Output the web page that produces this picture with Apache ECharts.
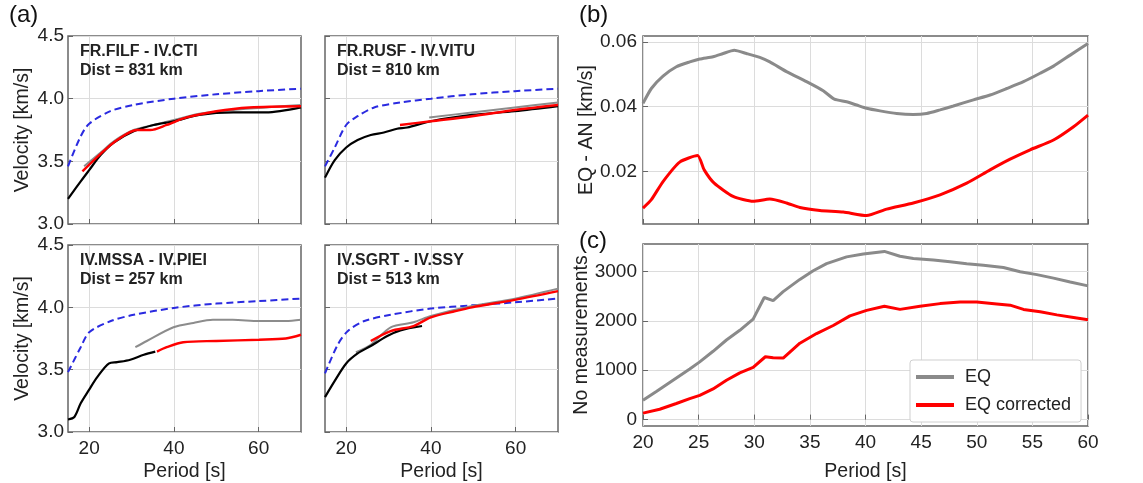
<!DOCTYPE html>
<html><head><meta charset="utf-8">
<script src="https://cdn.jsdelivr.net/npm/echarts@6/dist/echarts.min.js"></script>
<style>html,body{margin:0;padding:0;background:#fff}#c{width:1143px;height:483px}</style>
</head><body><div id="c"></div><script>
// ---------- data ----------
const xTicksA = [20, 40, 60];
const yTicksA = [3.0, 3.5, 4.0, 4.5];
const xTicksBC = [20, 25, 30, 35, 40, 45, 50, 55, 60];
const yTicksB = [0.02, 0.04, 0.06];
const yTicksC = [0, 1000, 2000, 3000];

const pairTitles = ['FR.FILF - IV.CTI', 'FR.RUSF - IV.VITU', 'IV.MSSA - IV.PIEI', 'IV.SGRT - IV.SSY'];
const pairDists = ['Dist = 831 km', 'Dist = 810 km', 'Dist = 257 km', 'Dist = 513 km'];

// panel (a) subplot 1: FR.FILF - IV.CTI
const a1Ref = [[15,3.46],[18,3.70],[20,3.80],[25,3.90],[30.5,3.95],[40,4.00],[50,4.035],[60,4.06],[70,4.08]];
const a1Black = [[15,3.20],[18,3.34],[20,3.43],[22.7,3.55],[25.8,3.65],[30.5,3.74],[35.2,3.79],[40,3.82],[46,3.87],[54,3.89],[61.7,3.89],[70,3.93]];
const a1Grey = [[18.8,3.46],[22.7,3.57],[25.8,3.66],[30.5,3.75],[35.2,3.79],[40,3.83],[46,3.88],[54,3.91],[61.7,3.93],[70,3.95]];
const a1Red = [[18.4,3.42],[22.7,3.56],[26.6,3.67],[31.3,3.75],[34.4,3.75],[38.3,3.79],[43,3.85],[50,3.90],[57.8,3.93],[70,3.94]];
// subplot 2: FR.RUSF - IV.VITU
const a2Ref = [[15,3.46],[17.3,3.61],[20,3.79],[22.7,3.86],[26.6,3.93],[32.8,3.97],[40,4.00],[49.7,4.035],[59.8,4.06],[70,4.08]];
const a2Black = [[15,3.37],[17.3,3.51],[20,3.61],[22.7,3.67],[25.8,3.71],[28.9,3.73],[32,3.76],[34.4,3.77],[40,3.82],[49.7,3.87],[59.8,3.90],[70,3.94]];
const a2Grey = [[39.6,3.85],[49.7,3.89],[59.8,3.93],[70,3.97]];
const a2Red = [[32.7,3.79],[40,3.82],[49.7,3.86],[59.8,3.91],[70,3.95]];
// subplot 3: IV.MSSA - IV.PIEI
const a3Ref = [[15,3.48],[18,3.68],[20,3.80],[25.1,3.89],[30.5,3.94],[40,3.995],[50,4.03],[60,4.05],[70,4.07]];
const a3Black = [[15,3.10],[16.5,3.12],[18,3.23],[20,3.34],[21.9,3.44],[24.7,3.55],[26.6,3.56],[29.7,3.58],[32.9,3.62],[35.6,3.645]];
const a3Grey = [[30.9,3.68],[33.6,3.73],[39.9,3.84],[44.6,3.875],[49.2,3.90],[53.9,3.90],[60.1,3.89],[66.4,3.89],[70,3.90]];
const a3Red = [[36,3.645],[38.3,3.68],[42.2,3.72],[50,3.73],[60.1,3.74],[66.4,3.75],[70,3.78]];
// subplot 4: IV.SGRT - IV.SSY
const a4Ref = [[15,3.47],[18,3.70],[20.4,3.81],[24.3,3.89],[30.5,3.94],[40,3.99],[49.7,4.016],[59.8,4.04],[70,4.07]];
const a4Black = [[15,3.28],[17.3,3.41],[20,3.55],[22.7,3.63],[25.8,3.69],[29.7,3.77],[32.8,3.815],[37.9,3.85]];
const a4Grey = [[22.3,3.64],[25.8,3.70],[30.5,3.84],[35.9,3.88],[40,3.93],[49.7,4.01],[59.8,4.07],[70,4.15]];
const a4Red = [[25.8,3.73],[30.5,3.81],[35.9,3.85],[40,3.92],[45.8,3.97],[49.7,4.00],[59.8,4.06],[70,4.13]];

// panel (b): EQ - AN
const bEQ = [[20,0.0410],[20.75,0.0456],[21.8,0.0494],[23,0.0523],[24.2,0.0538],[25.1,0.0547],[26.3,0.0554],[27.2,0.0564],[28.2,0.0574],[29.3,0.0564],[30.5,0.0552],[31.4,0.0538],[32.9,0.0508],[34.7,0.0477],[36.2,0.0449],[37.2,0.0423],[38.3,0.0415],[39.2,0.0405],[40.1,0.0395],[41.3,0.0387],[42.8,0.0379],[44.3,0.0376],[45.5,0.0379],[46.7,0.0390],[47.9,0.0402],[49.7,0.0421],[51.2,0.0436],[52.7,0.0456],[54.2,0.0477],[55.7,0.0503],[56.9,0.0525],[58.4,0.0559],[60,0.0595]];
const bEQcorr = [[20,0.0087],[20.75,0.0113],[21.8,0.0169],[23.3,0.0229],[24.9,0.0249],[25.5,0.0205],[26.4,0.0164],[28.1,0.0123],[29.9,0.0108],[31.4,0.0115],[32.9,0.0103],[34.1,0.0089],[35.9,0.0080],[38,0.0075],[40.1,0.0064],[41.9,0.0084],[44.3,0.0103],[46.7,0.0128],[49.1,0.0164],[51.2,0.0205],[53,0.0238],[54.8,0.0267],[56.9,0.0297],[58.7,0.0338],[60,0.0374]];

// panel (c): number of measurements
const cEQ = [[20,391],[21.2,568],[22.7,796],[24.2,1024],[25.1,1168],[26.3,1383],[27.5,1611],[28.7,1807],[29.9,2035],[30.9,2472],[31.7,2407],[32.6,2590],[34.1,2838],[35.3,3014],[36.5,3157],[38.3,3294],[39.8,3353],[41.7,3405],[43.1,3307],[44.3,3262],[46.1,3229],[47.6,3196],[49.1,3157],[50.6,3125],[52.4,3079],[53.9,2994],[55.4,2935],[56.9,2864],[58.4,2785],[60,2707]];
const cEQcorr = [[20,130],[21.5,209],[23,326],[24.2,424],[25.1,489],[26.3,620],[27.5,796],[28.7,946],[29.9,1057],[31,1272],[31.7,1252],[32.6,1246],[34.1,1546],[35.6,1742],[37.1,1905],[38.6,2100],[40.1,2211],[41.7,2296],[43.1,2231],[44.9,2296],[46.7,2348],[48.5,2381],[50,2381],[51.8,2342],[53,2316],[54.2,2231],[55.7,2185],[57.2,2120],[58.7,2068],[60,2022]];

// ---------- layout ----------
const FONT = 'Liberation Sans, Arial, Helvetica, sans-serif';
const grids = [
  {left: 68, top: 36, width: 233, height: 188},
  {left: 325, top: 36, width: 233, height: 188},
  {left: 68, top: 245, width: 233, height: 187},
  {left: 325, top: 245, width: 233, height: 187},
  {left: 643, top: 36, width: 445, height: 188},
  {left: 643, top: 244, width: 445, height: 188}
].map(g => Object.assign({show: true, borderColor: '#666', borderWidth: 1.5, backgroundColor: 'transparent'}, g));

const tickStyle = {show: true, inside: true, length: 5, lineStyle: {color: '#666', width: 1}};
const splitStyle = {show: true, lineStyle: {color: '#dcdcdc', width: 1}};
const lblStyle = {color: '#222', fontSize: 19, fontFamily: FONT};
const nameStyle = {color: '#222', fontSize: 19.5, fontFamily: FONT};

const xAxes = [], yAxes = [];
for (let i = 0; i < 4; i++) {
  const bottom = i >= 2;
  const left = i % 2 === 0;
  xAxes.push({
    type: 'value', gridIndex: i, min: 15, max: 70,
    axisLine: {show: false},
    axisTick: Object.assign({}, tickStyle, {customValues: xTicksA}),
    splitLine: splitStyle,
    axisLabel: Object.assign({}, lblStyle, {show: bottom, customValues: xTicksA, margin: 7}),
    name: bottom ? 'Period [s]' : '', nameLocation: 'middle', nameGap: 30, nameTextStyle: nameStyle
  });
  yAxes.push({
    type: 'value', gridIndex: i, min: 3.0, max: 4.5, interval: 0.5,
    axisLine: {show: false},
    axisTick: Object.assign({}, tickStyle, {customValues: yTicksA}),
    splitLine: splitStyle,
    axisLabel: Object.assign({}, lblStyle, {show: left, customValues: yTicksA, margin: 4, formatter: v => v.toFixed(1)}),
    name: left ? 'Velocity [km/s]' : '', nameLocation: 'middle', nameGap: 35, nameTextStyle: nameStyle,
    nameMoveOverlap: false
  });
}
xAxes.push({
  type: 'value', gridIndex: 4, min: 20, max: 60, interval: 5,
  axisLine: {show: false}, axisTick: tickStyle, splitLine: splitStyle,
  axisLabel: {show: false}
});
yAxes.push({
  type: 'value', gridIndex: 4, min: 0.0038, max: 0.0618,
  axisLine: {show: false},
  axisTick: Object.assign({}, tickStyle, {customValues: yTicksB}),
  splitLine: splitStyle,
  axisLabel: Object.assign({}, lblStyle, {customValues: yTicksB, margin: 6, formatter: v => v.toFixed(2)}),
  name: 'EQ - AN [km/s]', nameLocation: 'middle', nameGap: 46, nameTextStyle: nameStyle,
  nameMoveOverlap: false
});
xAxes.push({
  type: 'value', gridIndex: 5, min: 20, max: 60, interval: 5,
  axisLine: {show: false}, axisTick: tickStyle, splitLine: splitStyle,
  axisLabel: Object.assign({}, lblStyle, {margin: 7, formatter: v => String(v)}),
  name: 'Period [s]', nameLocation: 'middle', nameGap: 36, nameTextStyle: nameStyle
});
yAxes.push({
  type: 'value', gridIndex: 5, min: -130, max: 3555,
  axisLine: {show: false},
  axisTick: Object.assign({}, tickStyle, {customValues: yTicksC}),
  splitLine: splitStyle,
  axisLabel: Object.assign({}, lblStyle, {customValues: yTicksC, margin: 6, formatter: v => String(Math.round(v))}),
  name: 'No measurements', nameLocation: 'middle', nameGap: 51, nameTextStyle: nameStyle,
  nameMoveOverlap: false
});

function line(idx, data, color, width, opts) {
  return Object.assign({
    type: 'line', xAxisIndex: idx, yAxisIndex: idx, data: data,
    showSymbol: false, symbol: 'none', smooth: 0.3, silent: true,
    lineStyle: {color: color, width: width}, itemStyle: {color: color}, z: 3
  }, opts || {});
}

const subsets = [
  [a1Ref, a1Grey, a1Black, a1Red],
  [a2Ref, a2Grey, a2Black, a2Red],
  [a3Ref, a3Grey, a3Black, a3Red],
  [a4Ref, a4Grey, a4Black, a4Red]
];
const series = [];
subsets.forEach((s, i) => {
  series.push(line(i, s[0], '#2a2ae0', 2, {lineStyle: {color: '#2a2ae0', width: 2, type: [7, 4]}}));
  series.push(line(i, s[1], '#8c8c8c', 2));
  series.push(line(i, s[2], '#000000', 2.2));
  series.push(line(i, s[3], '#ff0000', 2.4));
});
series.push(line(4, bEQ, '#8a8a8a', 3, {name: 'EQ', smooth: 0.2}));
series.push(line(4, bEQcorr, '#ff0000', 3, {name: 'EQ corrected', smooth: 0.2}));
series.push(line(5, cEQ, '#8a8a8a', 3, {name: 'EQ', smooth: false}));
series.push(line(5, cEQcorr, '#ff0000', 3, {name: 'EQ corrected', smooth: false}));

const titlePos = [[80, 42], [337, 42], [80, 251], [337, 251]];
const titles = pairTitles.map((t, i) => ({
  text: t + '\n' + pairDists[i], left: titlePos[i][0], top: titlePos[i][1], padding: 0,
  textStyle: {fontSize: 16, fontWeight: 'bold', color: '#222', fontFamily: FONT, lineHeight: 19}
}));
[['(a)', 9, 3], ['(b)', 579, 3], ['(c)', 579, 229]].forEach(p => titles.push({
  text: p[0], left: p[1], top: p[2], padding: 0,
  textStyle: {fontSize: 24, fontWeight: 'normal', color: '#111', fontFamily: FONT}
}));

const chart = echarts.init(document.getElementById('c'), null, {renderer: 'canvas'});
chart.setOption({
  animation: false,
  backgroundColor: '#fff',
  title: titles,
  grid: grids,
  xAxis: xAxes,
  yAxis: yAxes,
  legend: {
    data: ['EQ', 'EQ corrected'], orient: 'vertical', left: 910, top: 360,
    backgroundColor: '#fff', borderColor: '#cfcfcf', borderWidth: 1, borderRadius: 3,
    padding: [8, 10, 8, 6], itemGap: 10, itemWidth: 38, itemHeight: 4, icon: 'rect',
    textStyle: {fontSize: 18, color: '#222', fontFamily: FONT, padding: [0, 0, 0, 6]},
    selectedMode: false
  },
  series: series
});
</script></body></html>
